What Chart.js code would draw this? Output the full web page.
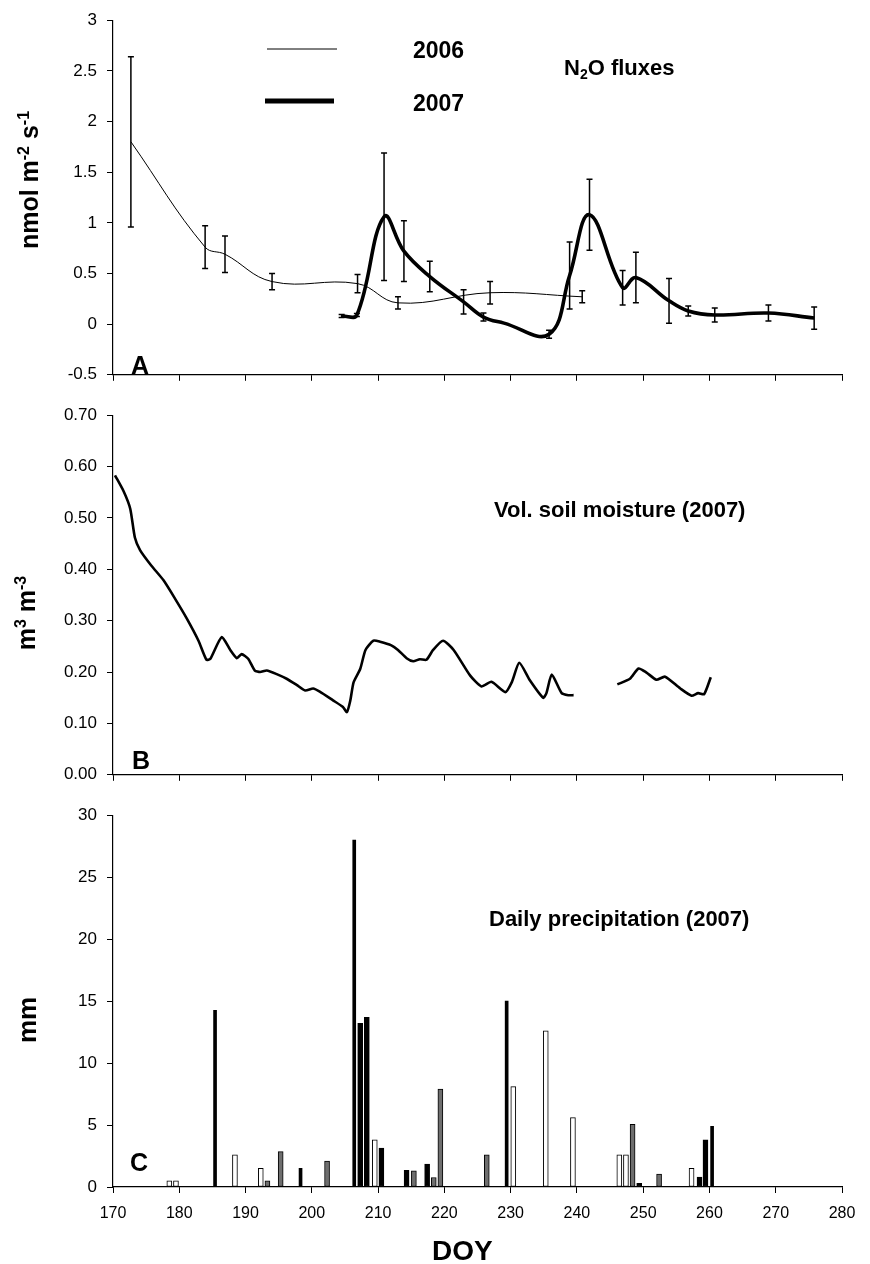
<!DOCTYPE html>
<html>
<head>
<meta charset="utf-8">
<script src="https://cdn.jsdelivr.net/npm/chart.js@4.4.0/dist/chart.umd.min.js"></script>
<style>
  html, body { margin: 0; padding: 0; background: #fff; }
  body { width: 870px; height: 1264px; position: relative; overflow: hidden; }
  canvas { position: absolute; left: 0; }
</style>
</head>
<body>
<canvas id="fluxChart" width="870" height="395" style="top:0"></canvas>
<canvas id="moistChart" width="870" height="400" style="top:395px"></canvas>
<canvas id="rainChart" width="870" height="469" style="top:795px"></canvas>
<script>
// N2O fluxes (nmol m-2 s-1), mean and standard error per sampling day
const flux2006Doy = [172.7, 183.9, 186.9, 194.0, 206.9, 213.0, 226.9, 240.8];
const flux2006    = [1.80, 0.76, 0.69, 0.42, 0.40, 0.21, 0.31, 0.27];
const flux2006Sd  = [0.84, 0.21, 0.18, 0.08, 0.09, 0.06, 0.11, 0.06];

const flux2007Doy = [204.5, 206.8, 210.9, 213.9, 217.8, 222.9, 225.9, 229.0, 235.8, 238.9,
                     241.9, 246.9, 248.9, 253.9, 256.8, 260.8, 268.9, 275.8];
const flux2007    = [0.08, 0.09, 1.06, 0.72, 0.47, 0.22, 0.07, 0.01, -0.10, 0.48,
                     1.08, 0.36, 0.46, 0.23, 0.13, 0.09, 0.11, 0.06];
const flux2007Sd  = [0.015, 0.015, 0.63, 0.30, 0.15, 0.12, 0.04, 0, 0.04, 0.33,
                     0.35, 0.17, 0.25, 0.22, 0.05, 0.07, 0.08, 0.11];

// volumetric soil moisture 2007 (m3 m-3); null = logger gap
const moistDoy = [170.3, 171.6, 172.6, 173.3, 174.1, 175.8, 177.6, 179.4, 181.1, 182.9,
                  184.1, 184.7, 186.4, 187.7, 188.7, 189.4, 190.4, 191.4, 192.2, 193.2,
                  194.7, 196.2, 197.7, 199.0, 200.2, 201.2, 203.2, 204.7, 205.3, 205.8,
                  206.3, 207.3, 208.1, 209.3, 210.3, 212.0, 213.0, 214.3, 215.3, 216.3,
                  217.3, 218.3, 219.8, 221.4, 223.9, 225.6, 227.1, 229.2, 230.2, 231.3,
                  232.9, 234.9, 235.4, 236.2, 237.7, 238.7, 239.5, 242.8, 246.1, 248.0,
                  249.3, 250.5, 252.0, 253.3, 255.6, 257.3, 258.3, 259.2, 260.2];
const moistVal = [0.583, 0.552, 0.518, 0.462, 0.437, 0.407, 0.379, 0.342, 0.305, 0.261,
                  0.224, 0.226, 0.268, 0.243, 0.227, 0.235, 0.226, 0.203, 0.200, 0.203,
                  0.196, 0.187, 0.175, 0.164, 0.168, 0.162, 0.145, 0.132, 0.122, 0.144,
                  0.180, 0.206, 0.243, 0.261, 0.259, 0.252, 0.243, 0.227, 0.221, 0.225,
                  0.224, 0.243, 0.261, 0.243, 0.193, 0.172, 0.181, 0.161, 0.181, 0.218,
                  0.184, 0.150, 0.159, 0.195, 0.159, 0.155, 0.155, null, 0.176, 0.187,
                  0.207, 0.199, 0.185, 0.191, 0.168, 0.154, 0.159, 0.157, 0.190];

// daily precipitation 2007 (mm); fill code: w open, g grey, k black, t thin black
const precipDoy  = [178.5, 179.5, 185.4, 188.4, 192.3, 193.3, 195.3, 198.3, 202.3, 206.4,
                    207.3, 208.3, 209.5, 210.5, 214.3, 215.4, 217.4, 218.4, 219.4, 226.4,
                    229.4, 230.4, 235.3, 239.4, 246.4, 247.4, 248.4, 249.4, 252.4, 257.3,
                    258.5, 259.4, 260.4];
const precipMm   = [0.5, 0.5, 14.25, 2.6, 1.5, 0.5, 2.85, 1.5, 2.1, 28.0,
                    13.2, 13.7, 3.8, 3.15, 1.35, 1.3, 1.85, 0.77, 7.9, 2.6,
                    15.0, 8.1, 12.6, 5.6, 2.6, 2.6, 5.05, 0.3, 1.05, 1.5,
                    0.8, 3.8, 4.9];
const precipFill = ['w', 'w', 't', 'w', 'w', 'g', 'g', 't', 'g', 't',
                    'k', 'k', 'w', 'k', 'k', 'g', 'k', 'g', 'g', 'g',
                    't', 'w', 'w', 'w', 'w', 'w', 'g', 'k', 'g', 'w',
                    'k', 'k', 't'];

const doyTicks = [170, 180, 190, 200, 210, 220, 230, 240, 250, 260, 270, 280];

const FONT = '"Liberation Sans", Arial, sans-serif';
const fillColours = { w: '#ffffff', g: '#6e6e6e', k: '#000000', t: '#000000' };

const pts = (xs, ys) => xs.map((x, i) => ({ x: x, y: ys[i] }));

/* ── plugins ─────────────────────────────────────────── */

// vertical error bars from dataset.sd
const errorBars = {
    id: 'errorBars',
    afterDatasetsDraw(chart) {
        const { ctx, scales } = chart;
        chart.data.datasets.forEach(ds => {
            if (!ds.sd) return;
            ctx.save();
            ctx.strokeStyle = '#000';
            ctx.lineWidth = 1.5;
            ds.data.forEach((p, i) => {
                const e = ds.sd[i];
                if (!e) return;
                const px  = scales.x.getPixelForValue(p.x);
                const top = scales.y.getPixelForValue(p.y + e);
                const bot = scales.y.getPixelForValue(p.y - e);
                ctx.beginPath();
                ctx.moveTo(px, top); ctx.lineTo(px, bot);
                ctx.moveTo(px - 3, top); ctx.lineTo(px + 3, top);
                ctx.moveTo(px - 3, bot); ctx.lineTo(px + 3, bot);
                ctx.stroke();
            });
            ctx.restore();
        });
    }
};

// text with super/subscripts; x,y = left edge / vertical centre (or centre when rotated)
function drawRich(ctx, item) {
    const size = item.size;
    const fontFor = p => 'bold ' + ((p.sup || p.sub) ? Math.round(size * 0.62) : size) + 'px ' + FONT;
    let w = 0;
    item.parts.forEach(p => { ctx.font = fontFor(p); w += ctx.measureText(p.t).width; });
    ctx.save();
    ctx.translate(item.x, item.y);
    if (item.rotate) ctx.rotate(-Math.PI / 2);
    ctx.fillStyle = '#000';
    ctx.textAlign = 'left';
    ctx.textBaseline = 'alphabetic';
    let cx = item.rotate ? -w / 2 : 0;
    const base = size * 0.36;
    item.parts.forEach(p => {
        ctx.font = fontFor(p);
        const dy = p.sup ? -size * 0.36 : (p.sub ? size * 0.2 : 0);
        ctx.fillText(p.t, cx, base + dy);
        cx += ctx.measureText(p.t).width;
    });
    ctx.restore();
}

const panelText = {
    id: 'panelText',
    afterDraw(chart, args, opts) {
        const ctx = chart.ctx;
        (opts.lines || []).forEach(l => {
            ctx.save();
            ctx.strokeStyle = '#000';
            ctx.lineWidth = l.width;
            ctx.beginPath();
            ctx.moveTo(l.x1, l.y);
            ctx.lineTo(l.x2, l.y);
            ctx.stroke();
            ctx.restore();
        });
        (opts.items || []).forEach(it => drawRich(ctx, it));
    }
};

/* ── shared axis setup ───────────────────────────────── */

function doyAxis(showLabels, height) {
    return {
        type: 'linear',
        min: 170,
        max: 280,
        offset: false,
        afterBuildTicks: s => { s.ticks = doyTicks.map(v => ({ value: v })); },
        afterFit: s => { s.height = height; },
        grid: { drawOnChartArea: false, drawTicks: true, tickLength: 6, color: '#000', lineWidth: 1, offset: false },
        border: { display: true, color: '#000', width: 1.2 },
        ticks: {
            display: showLabels,
            color: '#000',
            padding: 11,
            maxRotation: 0,
            font: { family: FONT, size: 16 }
        }
    };
}

function valueAxis(min, max, step, fmt) {
    return {
        min: min,
        max: max,
        afterFit: s => { s.width = 113; },
        grid: { drawOnChartArea: false, drawTicks: true, tickLength: 6, color: '#000', lineWidth: 1 },
        border: { display: true, color: '#000', width: 1.2 },
        ticks: {
            stepSize: step,
            color: '#000',
            padding: 10,
            font: { family: FONT, size: 17 },
            callback: fmt
        }
    };
}

const baseOptions = {
    responsive: false,
    animation: false,
    devicePixelRatio: 1,
    events: []
};

/* ── A: N2O fluxes ───────────────────────────────────── */

new Chart(document.getElementById('fluxChart'), {
    type: 'line',
    data: {
        datasets: [
            {
                label: '2006',
                data: pts(flux2006Doy, flux2006),
                sd: flux2006Sd,
                borderColor: '#000',
                borderWidth: 1,
                tension: 0.4,
                pointRadius: 0
            },
            {
                label: '2007',
                data: pts(flux2007Doy, flux2007),
                sd: flux2007Sd,
                borderColor: '#000',
                borderWidth: 3.6,
                tension: 0.4,
                pointRadius: 0
            }
        ]
    },
    options: {
        ...baseOptions,
        layout: { padding: { top: 15, right: 28, bottom: 0, left: 0 } },
        scales: {
            x: doyAxis(false, 12),
            y: valueAxis(-0.5, 3, 0.5, v => String(Number(v.toFixed(1))))
        },
        plugins: {
            legend: { display: false },
            tooltip: { enabled: false },
            panelText: {
                lines: [
                    { x1: 267, x2: 337, y: 49, width: 1 },
                    { x1: 265, x2: 334, y: 101, width: 5 }
                ],
                items: [
                    { parts: [{ t: 'nmol m' }, { t: '-2', sup: true }, { t: ' s' }, { t: '-1', sup: true }],
                      x: 29, y: 180, size: 25, rotate: true },
                    { parts: [{ t: '2006' }], x: 413, y: 50, size: 23 },
                    { parts: [{ t: '2007' }], x: 413, y: 103, size: 23 },
                    { parts: [{ t: 'N' }, { t: '2', sub: true }, { t: 'O fluxes' }], x: 564, y: 67, size: 22 },
                    { parts: [{ t: 'A' }], x: 131, y: 365, size: 25 }
                ]
            }
        }
    },
    plugins: [errorBars, panelText]
});

/* ── B: soil moisture ────────────────────────────────── */

new Chart(document.getElementById('moistChart'), {
    type: 'line',
    data: {
        datasets: [{
            label: 'Vol. soil moisture (2007)',
            data: pts(moistDoy, moistVal),
            borderColor: '#000',
            borderWidth: 2.6,
            tension: 0.2,
            pointRadius: 0,
            spanGaps: false
        }]
    },
    options: {
        ...baseOptions,
        layout: { padding: { top: 12, right: 28, bottom: 0, left: 0 } },
        scales: {
            x: doyAxis(false, 11),
            y: valueAxis(0, 0.7, 0.1, v => v.toFixed(2))
        },
        plugins: {
            legend: { display: false },
            tooltip: { enabled: false },
            panelText: {
                items: [
                    { parts: [{ t: 'm' }, { t: '3', sup: true }, { t: ' m' }, { t: '-3', sup: true }],
                      x: 26, y: 218, size: 25, rotate: true },
                    { parts: [{ t: 'Vol. soil moisture (2007)' }], x: 494, y: 114, size: 22 },
                    { parts: [{ t: 'B' }], x: 132, y: 365, size: 25 }
                ]
            }
        }
    },
    plugins: [panelText]
});

/* ── C: daily precipitation ──────────────────────────── */

const wideIdx = precipDoy.map((d, i) => i).filter(i => precipFill[i] !== 't');
const thinIdx = precipDoy.map((d, i) => i).filter(i => precipFill[i] === 't');

new Chart(document.getElementById('rainChart'), {
    type: 'bar',
    data: {
        datasets: [
            {
                label: 'Daily precipitation (2007)',
                data: wideIdx.map(i => ({ x: precipDoy[i], y: precipMm[i] })),
                backgroundColor: wideIdx.map(i => fillColours[precipFill[i]]),
                borderColor: '#000',
                borderWidth: 1,
                borderSkipped: false,
                barThickness: 5,
                grouped: false
            },
            {
                label: 'Daily precipitation (2007) thin',
                data: thinIdx.map(i => ({ x: precipDoy[i], y: precipMm[i] })),
                backgroundColor: '#000',
                borderWidth: 0,
                barThickness: 3,
                grouped: false
            }
        ]
    },
    options: {
        ...baseOptions,
        layout: { padding: { top: 17, right: 28, bottom: 0, left: 0 } },
        scales: {
            x: doyAxis(true, 77),
            y: valueAxis(0, 30, 5, v => String(v))
        },
        plugins: {
            legend: { display: false },
            tooltip: { enabled: false },
            panelText: {
                items: [
                    { parts: [{ t: 'mm' }], x: 27, y: 225, size: 26, rotate: true },
                    { parts: [{ t: 'Daily precipitation (2007)' }], x: 489, y: 123, size: 22 },
                    { parts: [{ t: 'C' }], x: 130, y: 367, size: 25 },
                    { parts: [{ t: 'DOY' }], x: 432, y: 455, size: 28 }
                ]
            }
        }
    },
    plugins: [panelText]
});
</script>
</body>
</html>
